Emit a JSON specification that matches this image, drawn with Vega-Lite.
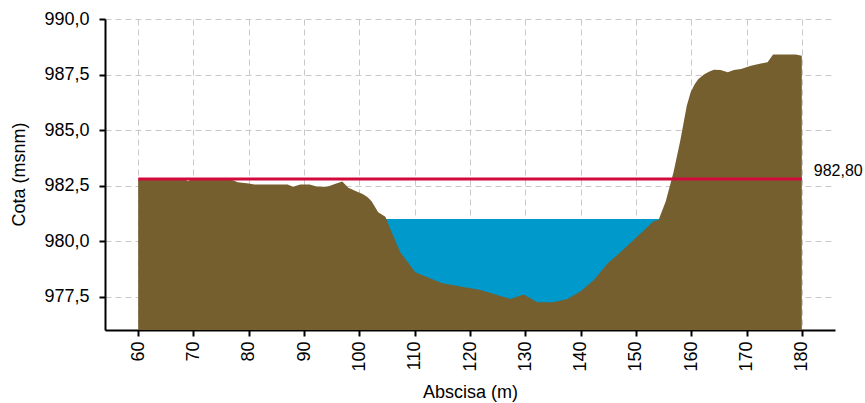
{
  "$schema": "https://vega.github.io/schema/vega-lite/v6.json",
  "autosize": "none",
  "width": 730,
  "height": 311,
  "padding": {"left": 105, "top": 19, "right": 30, "bottom": 73},
  "background": "white",
  "config": {
    "view": {"stroke": null},
    "font": "Liberation Sans",
    "axis": {
      "domainColor": "black",
      "domainWidth": 2,
      "tickColor": "black",
      "tickWidth": 2,
      "tickSize": 6,
      "gridColor": "#c8c8c8",
      "gridDash": [6, 4],
      "gridWidth": 1,
      "labelFont": "Liberation Sans",
      "labelFontSize": 18,
      "labelColor": "black",
      "titleFont": "Liberation Sans",
      "titleFontSize": 18,
      "titleFontWeight": "normal",
      "titleColor": "black"
    }
  },
  "datasets": {
    "terrain": [
      {"abscisa": 60, "cota": 982.75},
      {"abscisa": 65, "cota": 982.78},
      {"abscisa": 68.5, "cota": 982.78},
      {"abscisa": 69, "cota": 982.7},
      {"abscisa": 69.5, "cota": 982.78},
      {"abscisa": 75, "cota": 982.78},
      {"abscisa": 77, "cota": 982.75},
      {"abscisa": 78, "cota": 982.65},
      {"abscisa": 80, "cota": 982.6},
      {"abscisa": 81, "cota": 982.55},
      {"abscisa": 87, "cota": 982.55},
      {"abscisa": 88, "cota": 982.45},
      {"abscisa": 89.3, "cota": 982.55},
      {"abscisa": 91, "cota": 982.55},
      {"abscisa": 92.4, "cota": 982.45},
      {"abscisa": 94.2, "cota": 982.45},
      {"abscisa": 95.3, "cota": 982.55},
      {"abscisa": 96.9, "cota": 982.68},
      {"abscisa": 98, "cota": 982.4},
      {"abscisa": 99.6, "cota": 982.22},
      {"abscisa": 100.6, "cota": 982.12},
      {"abscisa": 101.5, "cota": 981.98},
      {"abscisa": 102.2, "cota": 981.8},
      {"abscisa": 102.8, "cota": 981.55},
      {"abscisa": 103.4, "cota": 981.3},
      {"abscisa": 104.7, "cota": 981.1},
      {"abscisa": 105.5, "cota": 980.6},
      {"abscisa": 107.4, "cota": 979.5},
      {"abscisa": 110.1, "cota": 978.6},
      {"abscisa": 115, "cota": 978.1},
      {"abscisa": 121.9, "cota": 977.8},
      {"abscisa": 125.2, "cota": 977.55},
      {"abscisa": 127.3, "cota": 977.4},
      {"abscisa": 129.7, "cota": 977.6},
      {"abscisa": 132.2, "cota": 977.25},
      {"abscisa": 135.1, "cota": 977.25},
      {"abscisa": 137.6, "cota": 977.4},
      {"abscisa": 140, "cota": 977.75},
      {"abscisa": 142.4, "cota": 978.25},
      {"abscisa": 144.9, "cota": 979.0},
      {"abscisa": 147.2, "cota": 979.5},
      {"abscisa": 153.2, "cota": 980.9},
      {"abscisa": 154.1, "cota": 980.95},
      {"abscisa": 155.4, "cota": 981.8},
      {"abscisa": 156.8, "cota": 983.1},
      {"abscisa": 158.0, "cota": 984.5},
      {"abscisa": 158.6, "cota": 985.3},
      {"abscisa": 159.2, "cota": 986.1},
      {"abscisa": 159.9, "cota": 986.7},
      {"abscisa": 160.6, "cota": 987.05},
      {"abscisa": 161.3, "cota": 987.3},
      {"abscisa": 162.3, "cota": 987.5},
      {"abscisa": 163.2, "cota": 987.62},
      {"abscisa": 164.1, "cota": 987.72},
      {"abscisa": 165.3, "cota": 987.7},
      {"abscisa": 166.6, "cota": 987.6},
      {"abscisa": 167.7, "cota": 987.7},
      {"abscisa": 169, "cota": 987.75},
      {"abscisa": 170.8, "cota": 987.9},
      {"abscisa": 172.6, "cota": 988.0},
      {"abscisa": 173.8, "cota": 988.05},
      {"abscisa": 174.8, "cota": 988.4},
      {"abscisa": 178.9, "cota": 988.4},
      {"abscisa": 180, "cota": 988.35}
    ],
    "water": [
      {"abscisa": 104.5, "cota": 981.0},
      {"abscisa": 154.3, "cota": 981.0}
    ],
    "nivel": [
      {"abscisa": 60, "cota": 982.8, "label": ""},
      {"abscisa": 180, "cota": 982.8, "label": "982,80"}
    ]
  },
  "encoding": {
    "x": {
      "field": "abscisa",
      "type": "quantitative",
      "scale": {"domain": [54, 186], "nice": false, "zero": false},
      "axis": {
        "title": "Abscisa (m)",
        "values": [60, 70, 80, 90, 100, 110, 120, 130, 140, 150, 160, 170, 180],
        "labelAngle": 270,
        "labelPadding": 5,
        "titleX": 365,
        "titleY": 62,
        "titleAlign": "center",
        "titleBaseline": "middle"
      }
    },
    "y": {
      "field": "cota",
      "type": "quantitative",
      "scale": {"domain": [976, 990], "nice": false, "zero": false},
      "axis": {
        "title": "Cota (msnm)",
        "values": [977.5, 980, 982.5, 985, 987.5, 990],
        "format": ".1f",
        "labelExpr": "replace(datum.label, '.', ',')",
        "labelPadding": 10,
        "titleAngle": -90,
        "titleX": -86,
        "titleY": 155,
        "titleAlign": "center",
        "titleBaseline": "middle"
      }
    }
  },
  "layer": [
    {
      "data": {"name": "water"},
      "mark": {"type": "area", "color": "#0099cc"},
      "encoding": {"y2": {"datum": 976}}
    },
    {
      "data": {"name": "terrain"},
      "mark": {"type": "area", "color": "#765f2f"},
      "encoding": {"y2": {"datum": 976}}
    },
    {
      "data": {"name": "nivel"},
      "mark": {"type": "line", "color": "#d20a3c", "strokeWidth": 3}
    },
    {
      "data": {"name": "nivel"},
      "mark": {"type": "text", "align": "left", "baseline": "middle", "dx": 12, "dy": -8, "fontSize": 16, "font": "Liberation Sans", "color": "black"},
      "encoding": {"text": {"field": "label"}}
    }
  ]
}
